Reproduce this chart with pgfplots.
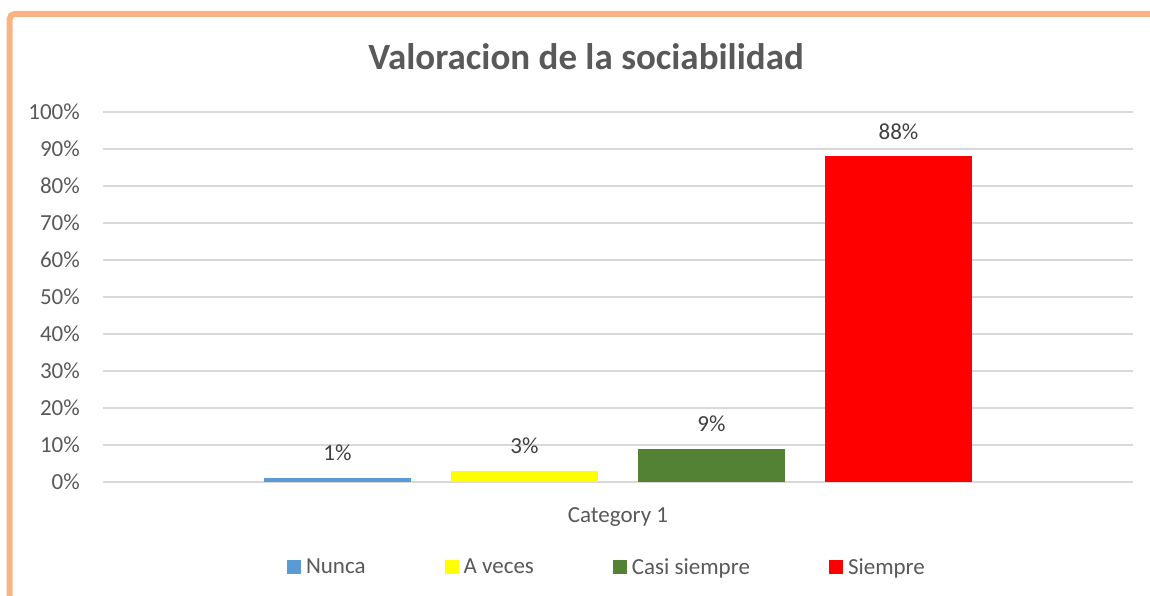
\documentclass[border=0pt]{standalone}
\usepackage{fontspec}
\setmainfont{Carlito}
\usepackage{pgfplots}
\pgfplotsset{compat=1.18}
\definecolor{txt}{HTML}{595959}
\definecolor{lbl}{HTML}{404040}
\definecolor{gridc}{HTML}{D9D9D9}
\definecolor{c1}{HTML}{5B9BD5}
\definecolor{c2}{HTML}{FFFF00}
\definecolor{c3}{HTML}{548235}
\definecolor{c4}{HTML}{FF0000}
\definecolor{framec}{HTML}{F8B482}
\pgfplotsset{sq legend/.style={legend image code/.code={\fill[##1] (0pt,-7pt) rectangle (14pt,7pt); \path (17pt,0pt);}}}
\begin{document}
\begin{tikzpicture}[x=1pt,y=1pt]
\path[use as bounding box] (0,0) rectangle (1150,595);
\draw[framec, line width=6pt, rounded corners=5pt] (9.7,-5) -- (9.7,581) -- (1160,581);
\node[txt, font=\fontsize{37}{44}\selectfont\bfseries] at (586,538) {Valoracion de la sociabilidad};
\begin{axis}[
  at={(103pt,113pt)}, anchor=south west,
  scale only axis, width=1030pt, height=370pt,
  xmin=-1, xmax=1, ymin=0, ymax=100,
  ybar=40pt, bar width=147pt,
  axis line style={draw=none},
  major tick length=0pt,
  tick style={draw=none},
  ymajorgrids, grid style={gridc, line width=1.5pt},
  ytick={0,10,...,100},
  yticklabel={\pgfmathprintnumber{\tick}\%},
  xtick={0}, xticklabels={Category 1},
  /pgf/number format/assume math mode=true,
  tick label style={txt, font=\fontsize{23}{27}\selectfont},
  yticklabel style={inner sep=0pt, xshift=-23pt},
  xticklabel style={inner sep=0pt, yshift=-25pt},
  nodes near coords={\pgfmathprintnumber{\pgfplotspointmeta}\%},
  nodes near coords style={lbl, font=\fontsize{23}{27}\selectfont, anchor=south, inner sep=0pt, yshift=17pt},
  legend columns=4,
  legend style={draw=none, at={(0.4893,-0.23)}, anchor=center, font=\fontsize{23}{27}\selectfont, text=txt, /tikz/every even column/.append style={column sep=77pt}},
  clip=false,
]
\addplot[fill=c1, draw=none, sq legend] coordinates {(0,1)};
\addplot[fill=c2, draw=none, sq legend] coordinates {(0,3)};
\addplot[fill=c3, draw=none, sq legend] coordinates {(0,9)};
\addplot[fill=c4, draw=none, sq legend] coordinates {(0,88)};
\legend{Nunca, A veces, Casi siempre, Siempre}
\end{axis}
\end{tikzpicture}
\end{document}
